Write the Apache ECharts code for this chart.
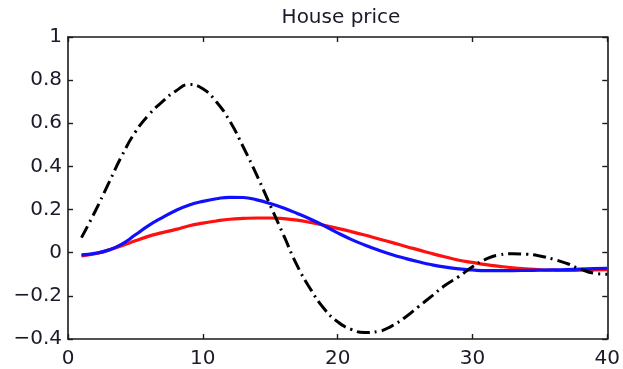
<!DOCTYPE html>
<html>
<head>
<meta charset="utf-8">
<script src="https://cdn.jsdelivr.net/npm/echarts@6/dist/echarts.min.js"></script>
<style>html,body{margin:0;padding:0;background:#fff}#c{width:623px;height:369px}</style>
</head>
<body>
<div id="c"></div>
<script>
var title = "House price";
var periods = [1,2,3,4,5,6,7,8,9,10,11,12,13,14,15,16,17,18,19,20,21,22,23,24,25,26,27,28,29,30,31,32,33,34,35,36,37,38,39,40];
var blackSeries = [0.07,0.19,0.32,0.45,0.56,0.64,0.70,0.75,0.78,0.76,0.70,0.61,0.49,0.36,0.22,0.08,-0.06,-0.17,-0.26,-0.32,-0.355,-0.37,-0.365,-0.34,-0.30,-0.25,-0.20,-0.15,-0.11,-0.065,-0.03,-0.01,-0.005,-0.007,-0.015,-0.03,-0.05,-0.075,-0.095,-0.10];
var blueSeries = [-0.01,-0.003,0.012,0.04,0.083,0.127,0.163,0.196,0.221,0.238,0.25,0.257,0.256,0.245,0.228,0.207,0.182,0.155,0.125,0.092,0.062,0.036,0.013,-0.008,-0.026,-0.042,-0.056,-0.067,-0.075,-0.08,-0.083,-0.083,-0.083,-0.082,-0.081,-0.08,-0.078,-0.076,-0.074,-0.072];
var redSeries = [-0.015,-0.005,0.012,0.032,0.055,0.077,0.093,0.108,0.125,0.137,0.147,0.155,0.159,0.161,0.161,0.158,0.151,0.14,0.127,0.113,0.098,0.082,0.065,0.048,0.03,0.013,-0.004,-0.02,-0.035,-0.045,-0.055,-0.063,-0.07,-0.075,-0.079,-0.081,-0.082,-0.081,-0.08,-0.079];
var xTicks = [0,10,20,30,40];
var yTicks = [-0.4,-0.2,0,0.2,0.4,0.6,0.8,1];

function pairs(ys){ return periods.map(function(x,i){ return [x, ys[i]]; }); }
function fmtY(v){ var r = Math.round(v*10)/10; var s = String(Math.abs(r)); return (r < 0 ? "\u2212" : "") + s; }

var font = "DejaVu Sans";
var chart = echarts.init(document.getElementById('c'));
var axisLine = {show:true, onZero:false, lineStyle:{color:'#1a1a1a', width:1.6}};
var tick = {show:true, inside:true, length:5, lineStyle:{color:'#1a1a1a', width:1.4}};
chart.setOption({
  animation:false,
  backgroundColor:'#fff',
  title:{text:title, left:336, textAlign:'center', top:3, textStyle:{fontFamily:font, fontSize:20, fontWeight:'normal', color:'#1a1a2a'}},
  grid:{left:68, right:15, top:37, bottom:28, containLabel:false},
  xAxis:[
    {type:'value', min:xTicks[0], max:xTicks[xTicks.length-1], interval:10, position:'bottom',
     axisLine:axisLine, axisTick:tick, splitLine:{show:false},
     axisLabel:{margin:10, fontFamily:font, fontSize:20, color:'#1a1a2a'}},
    {type:'value', min:0, max:40, interval:10, position:'top',
     axisLine:axisLine, axisTick:tick, splitLine:{show:false}, axisLabel:{show:false}}
  ],
  yAxis:[
    {type:'value', min:yTicks[0], max:yTicks[yTicks.length-1], interval:0.2, position:'left',
     axisLine:axisLine, axisTick:tick, splitLine:{show:false},
     axisLabel:{margin:6, fontFamily:font, fontSize:20, color:'#1a1a2a', formatter:fmtY}},
    {type:'value', min:-0.4, max:1, interval:0.2, position:'right',
     axisLine:axisLine, axisTick:tick, splitLine:{show:false}, axisLabel:{show:false}}
  ],
  series:[
    {type:'line', name:'red', data:pairs(redSeries), showSymbol:false, smooth:true,
     lineStyle:{color:'#ff1010', width:3.2}, z:2},
    {type:'line', name:'blue', data:pairs(blueSeries), showSymbol:false, smooth:true,
     lineStyle:{color:'#1010ff', width:3.2}, z:3},
    {type:'line', name:'black', data:pairs(blackSeries), showSymbol:false, smooth:true,
     lineStyle:{color:'#000', width:3, type:[13,5,2,5]}, z:4}
  ]
});
</script>
</body>
</html>
